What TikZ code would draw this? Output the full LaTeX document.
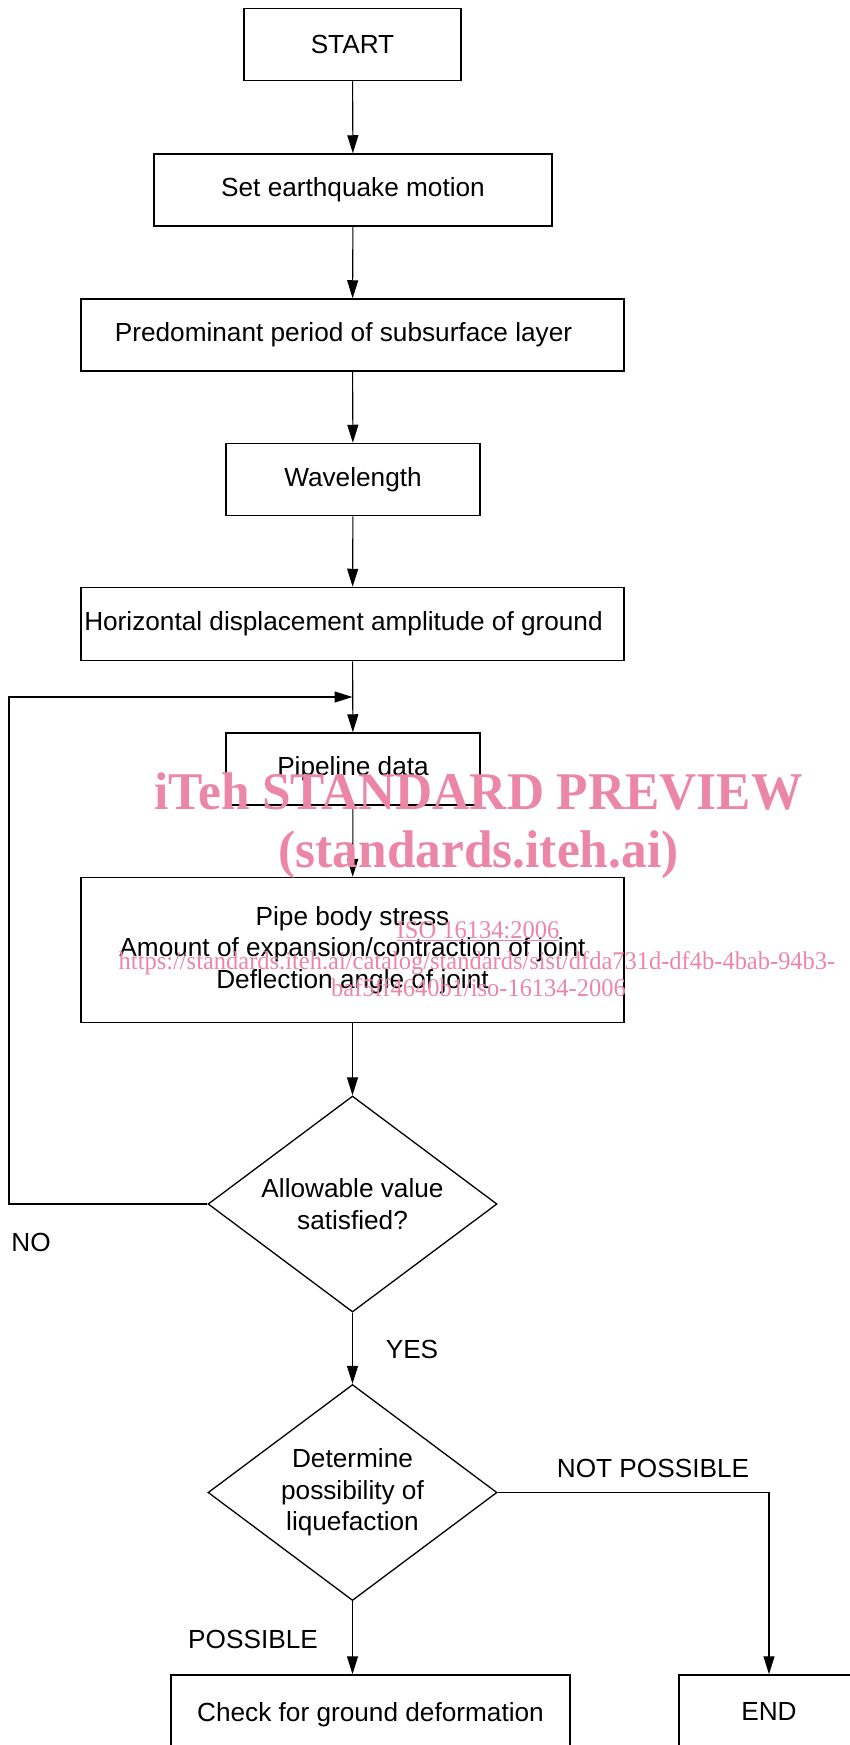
\documentclass[tikz,border=0pt]{standalone}
\usepackage{fontspec}
\setmainfont{Liberation Sans}
\newfontfamily\wmfont{Liberation Serif}
\usetikzlibrary{shapes.geometric,arrows.meta}
\definecolor{wmpink}{RGB}{236,134,166}
\begin{document}
\begin{tikzpicture}[x=1pt,y=-1pt,
  txt/.style={font=\fontsize{26.2}{31.5}\selectfont},
  box/.style={txt, draw, line width=1.5pt, rectangle, inner sep=0pt, align=center},
  dia/.style={txt, draw, line width=1.3pt, diamond, aspect=1.338, inner sep=0pt,
    minimum width=289pt, minimum height=216pt, align=center},
  arr/.style={line width=1.1pt, -{Triangle[length=18pt,width=11pt]}},
  lbl/.style={txt, inner sep=0pt},
  wmbig/.style={text=wmpink, anchor=base, inner sep=0pt, font=\wmfont\bfseries\fontsize{53}{60}\selectfont},
  wmsmall/.style={text=wmpink, anchor=base, inner sep=0pt, font=\wmfont\fontsize{25.5}{30}\selectfont}
]
\useasboundingbox (0,0) rectangle (849,1745);

% boxes
\node[box, minimum width=217pt, minimum height=72pt] (start) at (352.5,44.5) {START};
\node[box, minimum width=398pt, minimum height=72pt] (set) at (353,190) {Set earthquake motion};
\node[box, minimum width=543pt, minimum height=72pt] (pred) at (352.5,335) {Predominant period of subsurface layer\hspace{18pt}};
\node[box, minimum width=254pt, minimum height=72pt] (wave) at (353,479.5) {Wavelength};
\node[box, minimum width=543pt, minimum height=73pt] (horiz) at (352.5,624) {Horizontal displacement amplitude of ground\hspace{18pt}};
\node[box, minimum width=254pt, minimum height=72pt] (pipe) at (353,769) {Pipeline data};
\node[box, minimum width=543pt, minimum height=145pt] (body) at (352.5,950) {Pipe body stress\\Amount of expansion/contraction of joint\\Deflection angle of joint};
\node[dia] (d1) at (352.5,1204) {Allowable value\\satisfied?};
\node[dia] (d2) at (352.5,1492.5) {Determine\\possibility of\\liquefaction};
\node[box, minimum width=399pt, minimum height=80pt] (check) at (370.5,1715) {Check for ground deformation};
\node[box, minimum width=180pt, minimum height=76pt] (end) at (769,1713) {\raisebox{4pt}{END}};

% connectors
\draw[arr] (start) -- (set);
\draw[arr] (set) -- (pred);
\draw[arr] (pred) -- (wave);
\draw[arr] (wave) -- (horiz);
\draw[arr] (horiz) -- (pipe);
\draw[arr] (pipe) -- (body);
\draw[arr] (body) -- (d1);
\draw[arr] (d1) -- (d2);
\draw[arr] (d2.south) -- (d2.south |- check.north);
\draw[arr] (d2.east) -| (end.north);
\coordinate (loopL) at (9,697);
\coordinate (loopIn) at (352.5,697);
\draw[arr] (d1.west) -| (loopL) -- (loopIn);

% labels
\node[lbl] (no) at (31,1242) {NO};
\node[lbl] (yes) at (412,1349) {YES};
\node[lbl] (notp) at (653,1468) {NOT POSSIBLE};
\node[lbl] (poss) at (253,1639) {POSSIBLE};

% watermark
\node[wmbig] (wm1) at (478.5,809) {\scalebox{0.97}[1]{iTeh STANDARD PREVIEW}};
\node[wmbig] (wm2) at (478.5,867) {\scalebox{0.97}[1]{(standards.iteh.ai)}};
\node[wmsmall] (wm3) at (478,938) {\scalebox{0.96}[1]{\underline{ISO 16134:2006}}};
\node[wmsmall] (wm4) at (477,969) {\scalebox{0.96}[1]{https://standards.iteh.ai/catalog/standards/sist/dfda731d-df4b-4bab-94b3-}};
\node[wmsmall] (wm5) at (478.5,996) {\scalebox{0.96}[1]{baf5ff4640b1/iso-16134-2006}};
\end{tikzpicture}
\end{document}
